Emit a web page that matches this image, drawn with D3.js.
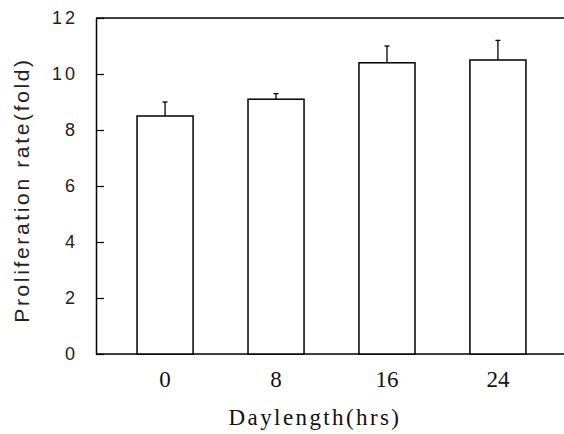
<!DOCTYPE html>
<html>
<head>
<meta charset="utf-8">
<script src="https://cdn.jsdelivr.net/npm/d3@7"></script>
<style>
  body { margin: 0; background: #fff; }
  svg { display: block; }
</style>
</head>
<body>
<div id="chart"></div>
<script>
// data
const daylengths = ["0", "8", "16", "24"];
const rates = [8.5, 9.1, 10.4, 10.5];
const errors = [0.5, 0.2, 0.6, 0.7];
const yTicks = [0, 2, 4, 6, 8, 10, 12];

const width = 564, height = 434;
const margin = { top: 18, right: 0, bottom: 80, left: 96 };

const svg = d3.select("#chart")
    .append("svg")
    .attr("width", width)
    .attr("height", height);

const x = d3.scaleBand()
    .domain(daylengths)
    .range([margin.left, 567])
    .paddingInner(0.495)
    .paddingOuter(0.37);

const y = d3.scaleLinear()
    .domain([0, 12])
    .range([height - margin.bottom, margin.top]);

// frame lines (top and bottom run off the right edge)
svg.append("line")
    .attr("x1", margin.left).attr("x2", width)
    .attr("y1", y(12)).attr("y2", y(12))
    .attr("stroke", "#000").attr("stroke-width", 1.5);

svg.append("line")
    .attr("x1", margin.left).attr("x2", width)
    .attr("y1", y(0)).attr("y2", y(0))
    .attr("stroke", "#000").attr("stroke-width", 1.5);

// y axis, ticks pointing inward
const yAxis = svg.append("g")
    .attr("transform", `translate(${margin.left},0)`)
    .call(d3.axisLeft(y).tickValues(yTicks).tickSizeInner(-8).tickSizeOuter(0).tickPadding(18));

yAxis.select(".domain").attr("stroke-width", 1.5);
yAxis.selectAll(".tick line").attr("stroke-width", 1.2);
yAxis.selectAll("text")
    .attr("font-family", "'Liberation Sans', Arial, sans-serif")
    .attr("font-size", 18)
    .attr("letter-spacing", 3)
    .attr("fill", "#222");

// x axis labels only
const xAxis = svg.append("g")
    .attr("transform", `translate(0,${y(0)})`)
    .call(d3.axisBottom(x).tickSize(0).tickPadding(17));

xAxis.select(".domain").remove();
xAxis.selectAll("text")
    .attr("font-family", "'Liberation Serif', 'Times New Roman', serif")
    .attr("font-size", 23)
    .attr("fill", "#111");

// bars
svg.selectAll(".bar")
    .data(rates)
    .enter()
    .append("rect")
    .attr("class", "bar")
    .attr("x", (d, i) => x(daylengths[i]))
    .attr("y", d => y(d))
    .attr("width", x.bandwidth())
    .attr("height", d => y(0) - y(d))
    .attr("fill", "#fff")
    .attr("stroke", "#000")
    .attr("stroke-width", 1.5);

// error bars (upper only)
const err = svg.selectAll(".err")
    .data(rates)
    .enter()
    .append("g")
    .attr("class", "err");

err.append("line")
    .attr("x1", (d, i) => x(daylengths[i]) + x.bandwidth() / 2)
    .attr("x2", (d, i) => x(daylengths[i]) + x.bandwidth() / 2)
    .attr("y1", d => y(d))
    .attr("y2", (d, i) => y(d + errors[i]))
    .attr("stroke", "#000")
    .attr("stroke-width", 1.3);

err.append("line")
    .attr("x1", (d, i) => x(daylengths[i]) + x.bandwidth() / 2 - 2.5)
    .attr("x2", (d, i) => x(daylengths[i]) + x.bandwidth() / 2 + 2.5)
    .attr("y1", (d, i) => y(d + errors[i]))
    .attr("y2", (d, i) => y(d + errors[i]))
    .attr("stroke", "#000")
    .attr("stroke-width", 1.3);

// axis titles
svg.append("text")
    .attr("transform", `translate(29,190) rotate(-90)`)
    .attr("text-anchor", "middle")
    .attr("font-family", "'Liberation Sans', Arial, sans-serif")
    .attr("font-size", 21)
    .attr("letter-spacing", 2.65)
    .attr("fill", "#222")
    .text("Proliferation rate(fold)");

svg.append("text")
    .attr("x", 315)
    .attr("y", 425)
    .attr("text-anchor", "middle")
    .attr("font-family", "'Liberation Serif', 'Times New Roman', serif")
    .attr("font-size", 23)
    .attr("letter-spacing", 2.4)
    .attr("fill", "#111")
    .text("Daylength(hrs)");
</script>
</body>
</html>
